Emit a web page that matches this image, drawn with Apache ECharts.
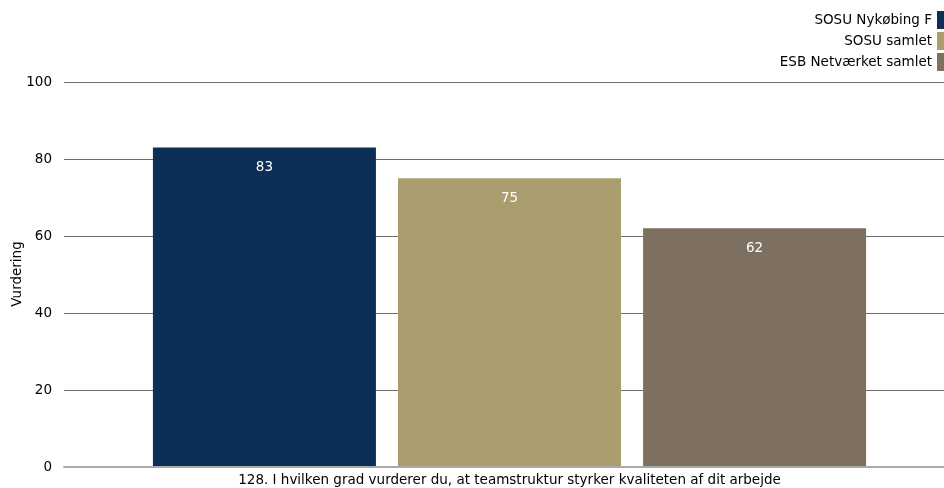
<!DOCTYPE html>
<html>
<head>
<meta charset="utf-8">
<script src="https://cdn.jsdelivr.net/npm/echarts@6/dist/echarts.min.js"></script>
<style>
  html, body { margin: 0; padding: 0; background: #fff; }
  #chart { width: 944px; height: 488px; }
</style>
</head>
<body>
<div id="chart"></div>
<script>
// Question and group ratings
const categories = ['128. I hvilken grad vurderer du, at teamstruktur styrker kvaliteten af dit arbejde'];
const seriesNames = ['SOSU Nykøbing F', 'SOSU samlet', 'ESB Netværket samlet'];
const nykobingValues = [83];
const sosuValues = [75];
const esbValues = [62];
const yTicks = [0, 20, 40, 60, 80, 100];
const yAxisTitle = 'Vurdering';
const seriesColors = ['#0C2F55', '#AA9E6E', '#7D7060'];

const FONT = 'DejaVu Sans';
const FS = 13.5;
const valueSets = [nykobingValues, sosuValues, esbValues];
const yMin = yTicks[0];
const yMax = yTicks[yTicks.length - 1];
const yStep = yTicks[1] - yTicks[0];

const chart = echarts.init(document.getElementById('chart'));
chart.setOption({
  animation: false,
  textStyle: { fontFamily: FONT },
  legend: {
    orient: 'vertical',
    right: 0,
    top: 11,
    padding: 0,
    align: 'right',
    itemWidth: 7,
    itemHeight: 18,
    itemGap: 3,
    icon: 'rect',
    textStyle: { fontFamily: FONT, fontSize: FS, color: '#000' },
    data: seriesNames
  },
  // rotated value-axis title, centred on the plot height
  graphic: [{
    type: 'text',
    x: 17,
    y: 274,
    rotation: Math.PI / 2,
    style: {
      text: yAxisTitle,
      fill: '#000',
      font: FS + 'px "' + FONT + '"',
      align: 'center',
      verticalAlign: 'middle'
    }
  }],
  // grid 0 carries the bars; grid 1 carries the gridlines, ticks and base line
  grid: [
    { left: 75, right: 0, top: 82, bottom: 21, outerBoundsMode: 'none', containLabel: false },
    { left: 64, right: 0, top: 82, bottom: 21, outerBoundsMode: 'none', containLabel: false }
  ],
  xAxis: [
    {
      gridIndex: 0,
      type: 'category',
      data: categories,
      axisTick: { show: false },
      axisLine: { show: false },
      axisLabel: { color: '#000', fontSize: FS, fontFamily: FONT, margin: 6 }
    },
    {
      gridIndex: 1,
      type: 'category',
      data: categories,
      axisTick: { show: false },
      axisLabel: { show: false },
      axisLine: { lineStyle: { color: '#aaa', width: 2 } },
      z: 5
    }
  ],
  yAxis: [
    {
      gridIndex: 0,
      type: 'value',
      min: yMin,
      max: yMax,
      interval: yStep,
      show: false,
      splitLine: { show: false }
    },
    {
      gridIndex: 1,
      type: 'value',
      min: yMin,
      max: yMax,
      interval: yStep,
      axisLine: { show: false },
      axisTick: { show: false },
      axisLabel: { color: '#000', fontSize: FS, fontFamily: FONT, margin: 12 },
      splitLine: { lineStyle: { color: '#6e6e6e', width: 1 } }
    }
  ],
  series: seriesNames.map((name, i) => ({
    name,
    type: 'bar',
    xAxisIndex: 0,
    yAxisIndex: 0,
    data: valueSets[i],
    barWidth: 223,
    barGap: '9.9%',
    z: 3,
    itemStyle: { color: seriesColors[i] },
    label: {
      show: true,
      position: 'insideTop',
      distance: 13,
      color: '#fff',
      fontSize: FS,
      fontFamily: FONT
    }
  }))
});
</script>
</body>
</html>
